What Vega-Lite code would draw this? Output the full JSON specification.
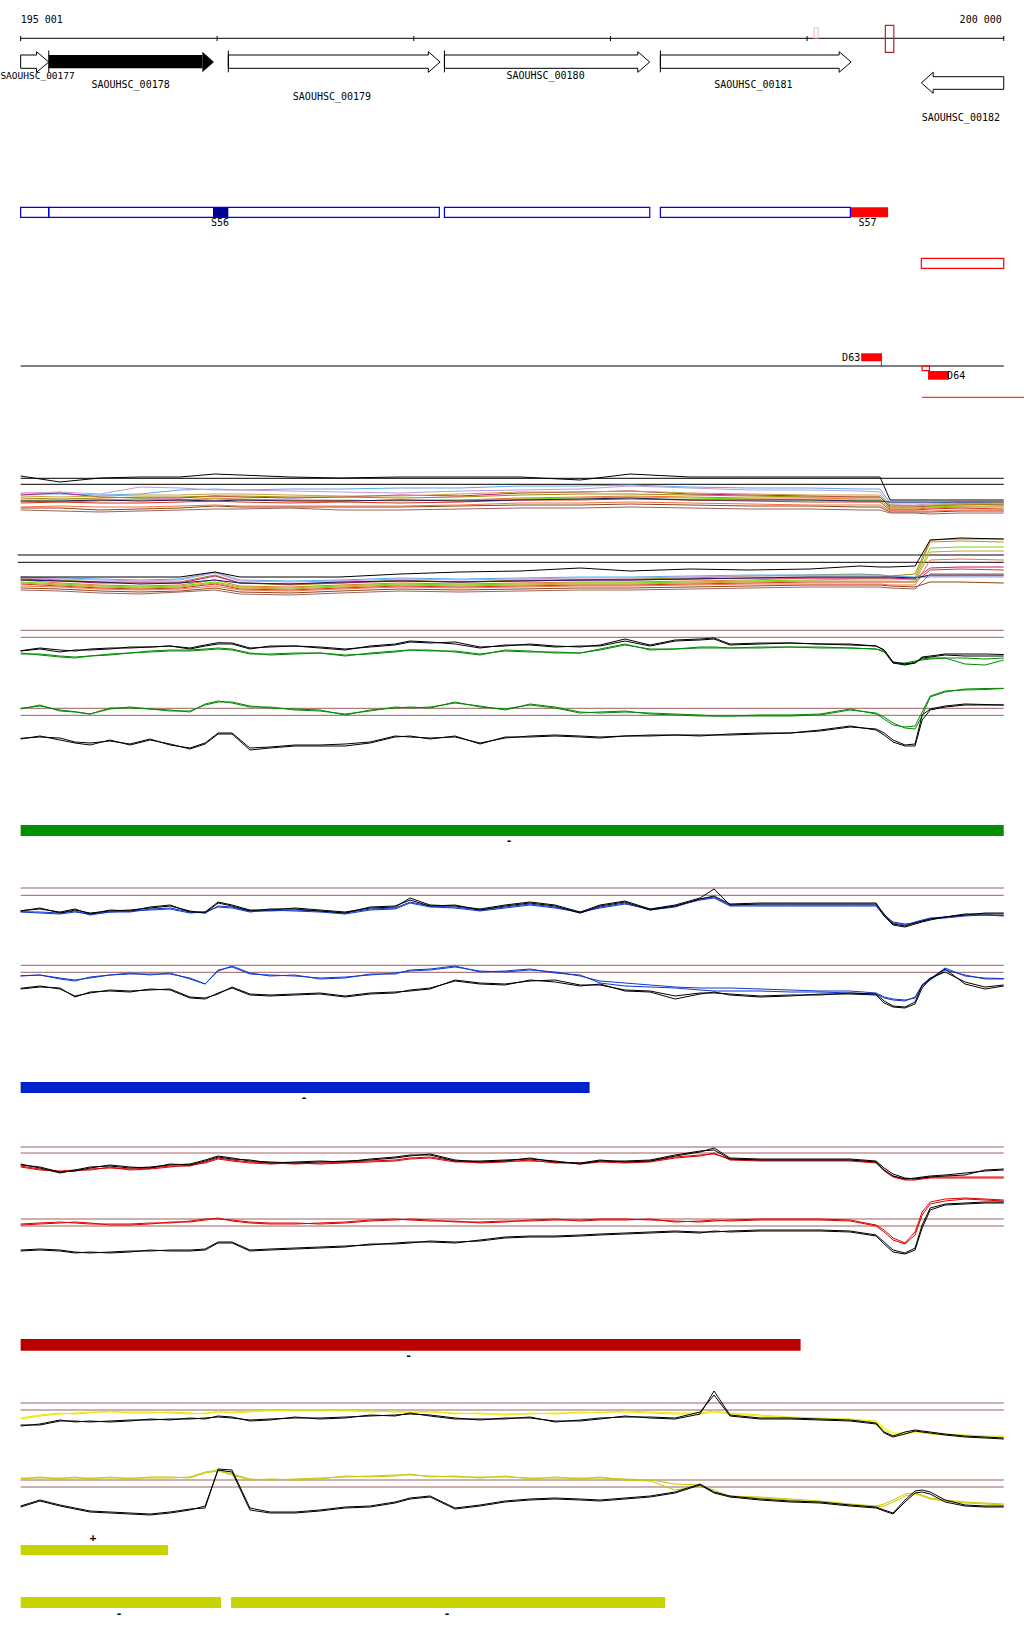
{
"$schema":"https://vega.github.io/schema/vega-lite/v6.json",
"width":1024,"height":1640,
"autosize":"none",
"padding":0,
"background":"white",
"config":{"view":{"stroke":null},"text":{"font":"DejaVu Sans Mono","fontSize":10,"color":"#000000"}},
"datasets":{
"mc":[
{"p":195001,"T1":494,"T2":493,"T3":495,"T4":500,"T5":498,"T6":501,"T7":503,"T8":501,"T9":508,"T10":507,"T11":510,"T12":496,"B1":578,"B2":580,"B3":582,"B4":579,"B5":584,"B6":577,"B7":578,"B8":588,"B9":586,"B10":580,"B11":583,"B12":590,"K3":476,"K6":577},
{"p":195201,"T1":494,"T2":492,"T3":493,"T4":500,"T5":499,"T6":502,"T7":502,"T8":501,"T9":508,"T10":506,"T11":511,"T12":497,"B1":580,"B2":583,"B3":584,"B4":581,"B5":586,"B6":578,"B7":579,"B8":589,"B9":587,"B10":581,"B11":585,"B12":591,"K3":482,"K6":577},
{"p":195405,"T1":495,"T2":494,"T3":497,"T4":500,"T5":498,"T6":501,"T7":503,"T8":500,"T9":510,"T10":507,"T11":512,"T12":496,"B1":582,"B2":585,"B3":586,"B4":583,"B5":588,"B6":579,"B7":580,"B8":591,"B9":589,"B10":582,"B11":587,"B12":593,"K3":478,"K6":577},
{"p":195608,"T1":494,"T2":487,"T3":498,"T4":499,"T5":497,"T6":500,"T7":503,"T8":501,"T9":509,"T10":507,"T11":511,"T12":495,"B1":582,"B2":586,"B3":587,"B4":583,"B5":589,"B6":580,"B7":581,"B8":592,"B9":590,"B10":584,"B11":588,"B12":594,"K3":477,"K6":577},
{"p":195811,"T1":490,"T2":488,"T3":498,"T4":500,"T5":497,"T6":500,"T7":502,"T8":500,"T9":508,"T10":506,"T11":510,"T12":495,"B1":582,"B2":585,"B3":586,"B4":583,"B5":588,"B6":579,"B7":580,"B8":591,"B9":589,"B10":583,"B11":587,"B12":592,"K3":477,"K6":577},
{"p":195989,"T1":489,"T2":490,"T3":496,"T4":499,"T5":496,"T6":498,"T7":501,"T8":501,"T9":506,"T10":505,"T11":509,"T12":494,"B1":575,"B2":580,"B3":582,"B4":576,"B5":584,"B6":572,"B7":573,"B8":588,"B9":586,"B10":580,"B11":583,"B12":590,"K3":474,"K6":572},
{"p":196116,"T1":490,"T2":490,"T3":497,"T4":500,"T5":496,"T6":499,"T7":502,"T8":500,"T9":507,"T10":506,"T11":509,"T12":494,"B1":583,"B2":586,"B3":587,"B4":583,"B5":589,"B6":580,"B7":581,"B8":592,"B9":590,"B10":583,"B11":588,"B12":594,"K3":475,"K6":577},
{"p":196371,"T1":489,"T2":491,"T3":498,"T4":500,"T5":497,"T6":500,"T7":503,"T8":501,"T9":507,"T10":506,"T11":508,"T12":495,"B1":585,"B2":587,"B3":588,"B4":584,"B5":590,"B6":581,"B7":582,"B8":593,"B9":591,"B10":584,"B11":589,"B12":595,"K3":477,"K6":577},
{"p":196625,"T1":489,"T2":492,"T3":497,"T4":500,"T5":497,"T6":501,"T7":502,"T8":501,"T9":507,"T10":506,"T11":510,"T12":496,"B1":583,"B2":585,"B3":586,"B4":583,"B5":588,"B6":580,"B7":581,"B8":591,"B9":589,"B10":582,"B11":587,"B12":593,"K3":478,"K6":577},
{"p":196930,"T1":488,"T2":493,"T3":495,"T4":501,"T5":498,"T6":500,"T7":503,"T8":500,"T9":507,"T10":506,"T11":510,"T12":496,"B1":580,"B2":583,"B3":584,"B4":581,"B5":586,"B6":578,"B7":579,"B8":589,"B9":587,"B10":581,"B11":585,"B12":591,"K3":477,"K6":574},
{"p":197235,"T1":488,"T2":491,"T3":496,"T4":500,"T5":497,"T6":500,"T7":502,"T8":501,"T9":506,"T10":505,"T11":509,"T12":494,"B1":582,"B2":584,"B3":585,"B4":582,"B5":587,"B6":579,"B7":580,"B8":590,"B9":588,"B10":582,"B11":586,"B12":592,"K3":477,"K6":572},
{"p":197540,"T1":486,"T2":490,"T3":493,"T4":499,"T5":495,"T6":498,"T7":500,"T8":500,"T9":505,"T10":503,"T11":508,"T12":492,"B1":580,"B2":583,"B3":584,"B4":581,"B5":586,"B6":578,"B7":579,"B8":589,"B9":587,"B10":581,"B11":585,"B12":591,"K3":477,"K6":571},
{"p":197846,"T1":486,"T2":489,"T3":492,"T4":498,"T5":494,"T6":497,"T7":500,"T8":499,"T9":505,"T10":503,"T11":508,"T12":492,"B1":580,"B2":582,"B3":583,"B4":580,"B5":585,"B6":577,"B7":578,"B8":588,"B9":586,"B10":580,"B11":584,"B12":590,"K3":480,"K6":568},
{"p":198100,"T1":485,"T2":486,"T3":491,"T4":497,"T5":494,"T6":496,"T7":499,"T8":498,"T9":504,"T10":502,"T11":507,"T12":491,"B1":579,"B2":582,"B3":583,"B4":580,"B5":585,"B6":577,"B7":578,"B8":588,"B9":586,"B10":580,"B11":584,"B12":590,"K3":474,"K6":571},
{"p":198405,"T1":487,"T2":488,"T3":494,"T4":498,"T5":495,"T6":497,"T7":500,"T8":500,"T9":505,"T10":503,"T11":508,"T12":493,"B1":578,"B2":581,"B3":582,"B4":579,"B5":584,"B6":576,"B7":577,"B8":587,"B9":585,"B10":579,"B11":583,"B12":589,"K3":477,"K6":569},
{"p":198710,"T1":488,"T2":490,"T3":495,"T4":499,"T5":496,"T6":498,"T7":501,"T8":500,"T9":506,"T10":504,"T11":509,"T12":494,"B1":576,"B2":580,"B3":581,"B4":578,"B5":583,"B6":575,"B7":576,"B8":586,"B9":584,"B10":578,"B11":582,"B12":588,"K3":477,"K6":570},
{"p":199015,"T1":488,"T2":490,"T3":496,"T4":500,"T5":497,"T6":498,"T7":502,"T8":500,"T9":506,"T10":505,"T11":509,"T12":495,"B1":575,"B2":578,"B3":580,"B4":578,"B5":582,"B6":575,"B7":576,"B8":585,"B9":584,"B10":577,"B11":581,"B12":587,"K3":477,"K6":569},
{"p":199269,"T1":489,"T2":491,"T3":497,"T4":500,"T5":497,"T6":499,"T7":502,"T8":501,"T9":507,"T10":505,"T11":510,"T12":495,"B1":574,"B2":578,"B3":579,"B4":578,"B5":582,"B6":575,"B7":576,"B8":585,"B9":584,"B10":577,"B11":581,"B12":587,"K3":477,"K6":566},
{"p":199371,"T1":489,"T2":492,"T3":497,"T4":500,"T5":497,"T6":499,"T7":502,"T8":501,"T9":507,"T10":505,"T11":510,"T12":495,"B1":575,"B2":578,"B3":579,"B4":578,"B5":582,"B6":575,"B7":576,"B8":585,"B9":584,"B10":577,"B11":581,"B12":587,"K3":477,"K6":567},
{"p":199422,"T1":503,"T2":505,"T3":507,"T4":508,"T5":505,"T6":509,"T7":510,"T8":502,"T9":512,"T10":511,"T11":513,"T12":506,"B1":576,"B2":578,"B3":579,"B4":578,"B5":582,"B6":576,"B7":577,"B8":586,"B9":585,"B10":577,"B11":581,"B12":588,"K3":500,"K6":567},
{"p":199549,"T1":503,"T2":505,"T3":507,"T4":508,"T5":506,"T6":509,"T7":510,"T8":502,"T9":512,"T10":511,"T11":513,"T12":506,"B1":574,"B2":578,"B3":580,"B4":579,"B5":582,"B6":577,"B7":578,"B8":587,"B9":585,"B10":578,"B11":582,"B12":589,"K3":500,"K6":566},
{"p":199626,"T1":503,"T2":504,"T3":506,"T4":507,"T5":506,"T6":508,"T7":509,"T8":502,"T9":512,"T10":511,"T11":514,"T12":505,"B1":540,"B2":542,"B3":548,"B4":568,"B5":570,"B6":576,"B7":577,"B8":582,"B9":560,"B10":575,"B11":552,"B12":574,"K3":500,"K6":540},
{"p":199778,"T1":502,"T2":503,"T3":504,"T4":506,"T5":505,"T6":507,"T7":508,"T8":502,"T9":511,"T10":510,"T11":513,"T12":504,"B1":539,"B2":541,"B3":547,"B4":567,"B5":569,"B6":576,"B7":577,"B8":582,"B9":559,"B10":575,"B11":551,"B12":574,"K3":500,"K6":538},
{"p":200000,"T1":502,"T2":503,"T3":505,"T4":506,"T5":504,"T6":507,"T7":509,"T8":502,"T9":511,"T10":510,"T11":513,"T12":503,"B1":539,"B2":542,"B3":547,"B4":567,"B5":570,"B6":576,"B7":577,"B8":583,"B9":560,"B10":575,"B11":551,"B12":574,"K3":500,"K6":539}
],
"g":[
{"p":195001,"k1":650.7,"k2":651,"c1":654,"c2":653,"C1":708.3,"C2":709,"K1":738.3,"K2":739},
{"p":195099,"k1":648,"k2":649,"c1":654,"c2":655,"C1":706,"C2":705,"K1":737,"K2":736},
{"p":195201,"k1":650,"k2":652,"c1":656,"c2":657,"C1":710,"C2":711,"K1":738,"K2":740},
{"p":195277,"k1":651,"k2":650,"c1":657,"c2":658,"C1":711.7,"C2":712,"K1":742,"K2":743},
{"p":195354,"k1":649,"k2":650,"c1":656,"c2":656,"C1":714,"C2":714,"K1":743,"K2":745},
{"p":195455,"k1":648,"k2":649,"c1":655,"c2":654,"C1":708,"C2":709,"K1":741,"K2":740},
{"p":195557,"k1":648,"k2":647,"c1":653,"c2":653,"C1":708,"C2":707,"K1":744,"K2":745},
{"p":195659,"k1":647,"k2":647,"c1":652,"c2":651,"C1":709,"C2":709,"K1":739,"K2":740},
{"p":195761,"k1":646,"k2":646,"c1":651,"c2":650,"C1":711,"C2":710,"K1":745,"K2":744},
{"p":195862,"k1":648,"k2":649,"c1":651,"c2":650,"C1":711,"C2":712,"K1":748,"K2":749},
{"p":195939,"k1":645,"k2":646,"c1":650,"c2":649,"C1":705,"C2":704,"K1":743,"K2":744},
{"p":196005,"k1":642.7,"k2":644,"c1":649,"c2":648,"C1":702,"C2":701,"K1":733,"K2":734},
{"p":196076,"k1":643,"k2":644,"c1":650,"c2":649,"C1":702,"C2":703,"K1":733,"K2":734},
{"p":196167,"k1":648,"k2":649,"c1":654,"c2":653,"C1":706,"C2":707,"K1":748,"K2":750},
{"p":196269,"k1":647,"k2":646,"c1":654,"c2":655,"C1":708,"C2":707,"K1":747,"K2":748},
{"p":196396,"k1":646,"k2":646,"c1":653,"c2":654,"C1":709,"C2":710,"K1":745,"K2":746},
{"p":196523,"k1":647,"k2":648,"c1":653,"c2":653,"C1":710,"C2":711,"K1":745,"K2":746},
{"p":196651,"k1":649,"k2":650,"c1":655,"c2":656,"C1":715,"C2":714,"K1":744,"K2":746},
{"p":196778,"k1":647,"k2":646,"c1":654,"c2":653,"C1":710,"C2":711,"K1":742,"K2":743},
{"p":196905,"k1":645,"k2":644,"c1":652,"c2":651,"C1":708,"C2":707,"K1":736,"K2":737},
{"p":196981,"k1":642,"k2":641,"c1":650,"c2":650,"C1":707,"C2":708,"K1":737,"K2":736},
{"p":197083,"k1":643,"k2":642,"c1":651,"c2":650,"C1":708,"C2":707,"K1":738,"K2":739},
{"p":197210,"k1":642,"k2":644,"c1":651,"c2":652,"C1":702,"C2":703,"K1":737,"K2":736},
{"p":197337,"k1":647,"k2":648,"c1":654,"c2":655,"C1":707,"C2":706,"K1":743,"K2":744},
{"p":197464,"k1":646,"k2":645,"c1":651,"c2":650,"C1":709,"C2":710,"K1":738,"K2":737},
{"p":197591,"k1":644,"k2":645,"c1":652,"c2":651,"C1":705,"C2":704,"K1":736,"K2":737},
{"p":197718,"k1":646,"k2":647,"c1":652,"c2":653,"C1":708,"C2":707,"K1":735,"K2":736},
{"p":197846,"k1":647,"k2":646,"c1":653,"c2":653,"C1":713,"C2":712,"K1":736,"K2":737},
{"p":197947,"k1":645,"k2":646,"c1":650,"c2":649,"C1":712,"C2":713,"K1":737,"K2":738},
{"p":198074,"k1":639,"k2":641,"c1":645,"c2":644,"C1":711,"C2":712,"K1":736,"K2":736},
{"p":198202,"k1":645,"k2":646,"c1":649,"c2":650,"C1":714,"C2":713,"K1":735,"K2":736},
{"p":198329,"k1":640,"k2":641,"c1":649,"c2":649,"C1":715,"C2":714,"K1":735,"K2":735},
{"p":198456,"k1":639,"k2":640,"c1":648,"c2":647,"C1":716,"C2":715,"K1":735,"K2":736},
{"p":198527,"k1":638,"k2":639,"c1":648,"c2":647,"C1":716,"C2":716,"K1":735,"K2":735},
{"p":198608,"k1":644,"k2":645,"c1":648,"c2":648,"C1":716,"C2":716,"K1":735,"K2":734},
{"p":198761,"k1":643,"k2":644,"c1":648,"c2":647,"C1":716,"C2":715,"K1":734,"K2":733},
{"p":198914,"k1":643,"k2":643,"c1":647,"c2":647,"C1":716,"C2":715,"K1":733,"K2":733},
{"p":199066,"k1":644,"k2":644,"c1":647,"c2":648,"C1":715,"C2":714,"K1":731,"K2":730},
{"p":199219,"k1":645,"k2":644,"c1":648,"c2":648,"C1":710,"C2":709,"K1":727,"K2":726},
{"p":199351,"k1":646,"k2":646,"c1":649,"c2":649,"C1":713,"C2":714,"K1":729,"K2":730},
{"p":199392,"k1":650,"k2":650,"c1":651,"c2":652,"C1":717,"C2":719,"K1":733,"K2":735},
{"p":199437,"k1":662,"k2":663,"c1":662,"c2":663,"C1":723,"C2":725,"K1":740,"K2":742},
{"p":199498,"k1":664,"k2":665,"c1":664,"c2":663,"C1":728,"C2":727,"K1":745,"K2":746},
{"p":199549,"k1":663,"k2":663,"c1":662,"c2":661,"C1":729,"C2":726,"K1":744,"K2":746},
{"p":199585,"k1":657,"k2":658,"c1":659,"c2":660,"C1":716,"C2":712,"K1":715,"K2":720},
{"p":199626,"k1":656,"k2":657,"c1":658,"c2":659,"C1":697,"C2":696,"K1":709,"K2":710},
{"p":199702,"k1":654,"k2":655,"c1":658,"c2":658,"C1":692,"C2":691,"K1":706,"K2":707},
{"p":199803,"k1":654,"k2":656,"c1":664,"c2":658,"C1":689,"C2":690,"K1":704,"K2":705},
{"p":199905,"k1":654,"k2":656,"c1":665,"c2":659,"C1":688.5,"C2":689.5,"K1":704.5,"K2":705},
{"p":200000,"k1":654.5,"k2":656,"c1":660,"c2":658,"C1":688.3,"C2":688.5,"K1":705,"K2":705}
],
"b":[
{"p":195001,"k1":910.7,"k2":911,"c1":911.7,"c2":912,"C1":975.7,"C2":976,"K1":988.3,"K2":989},
{"p":195099,"k1":909,"k2":908,"c1":912,"c2":913,"C1":975,"C2":975,"K1":986,"K2":987},
{"p":195201,"k1":912,"k2":913,"c1":913,"c2":914,"C1":978,"C2":979,"K1":989,"K2":988},
{"p":195277,"k1":909,"k2":910,"c1":911,"c2":912,"C1":980,"C2":981,"K1":996,"K2":997},
{"p":195354,"k1":914,"k2":913,"c1":915,"c2":914,"C1":978,"C2":977,"K1":993,"K2":992},
{"p":195455,"k1":910,"k2":911,"c1":912,"c2":912,"C1":975,"C2":975,"K1":990,"K2":991},
{"p":195557,"k1":911,"k2":910,"c1":912,"c2":911,"C1":974,"C2":973,"K1":991,"K2":992},
{"p":195659,"k1":907,"k2":908,"c1":909,"c2":910,"C1":974,"C2":975,"K1":990,"K2":989},
{"p":195761,"k1":905,"k2":906,"c1":908,"c2":909,"C1":974,"C2":973,"K1":989,"K2":990},
{"p":195862,"k1":912,"k2":911,"c1":912,"c2":913,"C1":978,"C2":979,"K1":997,"K2":998},
{"p":195939,"k1":912,"k2":913,"c1":913,"c2":912,"C1":984,"C2":984,"K1":998,"K2":999},
{"p":196005,"k1":902,"k2":903,"c1":906,"c2":907,"C1":970,"C2":971,"K1":994,"K2":993},
{"p":196076,"k1":905,"k2":906,"c1":907,"c2":908,"C1":967,"C2":966,"K1":987,"K2":988},
{"p":196167,"k1":910,"k2":911,"c1":911,"c2":912,"C1":974,"C2":973,"K1":994,"K2":995},
{"p":196269,"k1":910,"k2":909,"c1":911,"c2":910,"C1":975,"C2":976,"K1":995,"K2":996},
{"p":196396,"k1":908,"k2":909,"c1":910,"c2":911,"C1":976,"C2":975,"K1":994,"K2":995},
{"p":196523,"k1":910,"k2":911,"c1":911,"c2":912,"C1":978,"C2":979,"K1":993,"K2":994},
{"p":196651,"k1":912,"k2":913,"c1":913,"c2":914,"C1":977,"C2":978,"K1":996,"K2":997},
{"p":196778,"k1":908,"k2":907,"c1":909,"c2":910,"C1":975,"C2":974,"K1":993,"K2":994},
{"p":196905,"k1":907,"k2":906,"c1":908,"c2":909,"C1":973,"C2":974,"K1":992,"K2":993},
{"p":196981,"k1":898,"k2":900,"c1":902,"c2":903,"C1":971,"C2":970,"K1":991,"K2":990},
{"p":197083,"k1":905,"k2":906,"c1":906,"c2":907,"C1":970,"C2":969,"K1":989,"K2":988},
{"p":197210,"k1":906,"k2":905,"c1":907,"c2":908,"C1":967,"C2":966,"K1":980,"K2":981},
{"p":197337,"k1":909,"k2":910,"c1":910,"c2":911,"C1":971,"C2":972,"K1":983,"K2":984},
{"p":197464,"k1":905,"k2":906,"c1":907,"c2":908,"C1":972,"C2":971,"K1":984,"K2":985},
{"p":197591,"k1":902,"k2":903,"c1":904,"c2":905,"C1":970,"C2":969,"K1":981,"K2":980},
{"p":197718,"k1":905,"k2":906,"c1":907,"c2":908,"C1":972,"C2":973,"K1":980,"K2":982},
{"p":197846,"k1":912,"k2":913,"c1":913,"c2":912,"C1":976,"C2":975,"K1":985,"K2":986},
{"p":197947,"k1":905,"k2":906,"c1":907,"c2":908,"C1":981,"C2":983,"K1":985,"K2":984},
{"p":198074,"k1":901,"k2":902,"c1":903,"c2":904,"C1":983,"C2":986,"K1":990,"K2":991},
{"p":198202,"k1":909,"k2":910,"c1":910,"c2":909,"C1":985,"C2":987,"K1":991,"K2":992},
{"p":198329,"k1":905,"k2":906,"c1":907,"c2":906,"C1":987,"C2":988,"K1":996,"K2":999},
{"p":198456,"k1":898,"k2":899,"c1":899,"c2":900,"C1":988,"C2":990,"K1":993,"K2":994},
{"p":198527,"k1":889,"k2":896,"c1":897,"c2":898,"C1":988,"C2":991,"K1":993,"K2":992},
{"p":198608,"k1":905,"k2":904,"c1":905,"c2":906,"C1":988,"C2":991,"K1":994,"K2":995},
{"p":198761,"k1":904,"k2":903,"c1":905,"c2":906,"C1":989,"C2":991,"K1":996,"K2":997},
{"p":198914,"k1":904,"k2":903,"c1":905,"c2":906,"C1":990,"C2":992,"K1":995,"K2":996},
{"p":199066,"k1":904,"k2":903,"c1":905,"c2":906,"C1":991,"C2":992,"K1":995,"K2":994},
{"p":199219,"k1":904,"k2":903,"c1":905,"c2":906,"C1":991,"C2":993,"K1":993,"K2":994},
{"p":199351,"k1":904,"k2":903,"c1":905,"c2":906,"C1":993,"C2":994,"K1":994,"K2":995},
{"p":199392,"k1":914,"k2":916,"c1":915,"c2":916,"C1":997,"C2":998,"K1":1001,"K2":1003},
{"p":199437,"k1":924,"k2":925,"c1":922,"c2":923,"C1":999,"C2":1000,"K1":1006,"K2":1007},
{"p":199498,"k1":926,"k2":927,"c1":924,"c2":925,"C1":1000,"C2":1001,"K1":1007,"K2":1008},
{"p":199549,"k1":923,"k2":924,"c1":923,"c2":922,"C1":998,"C2":997,"K1":1002,"K2":1004},
{"p":199585,"k1":921,"k2":922,"c1":921,"c2":920,"C1":986,"C2":985,"K1":985,"K2":988},
{"p":199626,"k1":919,"k2":920,"c1":919,"c2":918,"C1":980,"C2":979,"K1":978,"K2":979},
{"p":199702,"k1":917,"k2":917,"c1":918,"c2":917,"C1":970,"C2":968,"K1":972,"K2":969},
{"p":199803,"k1":914,"k2":915,"c1":916,"c2":915,"C1":975,"C2":976,"K1":982,"K2":984},
{"p":199905,"k1":914,"k2":913,"c1":915,"c2":915,"C1":979,"C2":978,"K1":987,"K2":989},
{"p":200000,"k1":914,"k2":913,"c1":915.7,"c2":916,"C1":979,"C2":978.5,"K1":985,"K2":986}
],
"r":[
{"p":195001,"k1":1164,"k2":1165,"c1":1166,"c2":1167,"C1":1224,"C2":1225,"K1":1250,"K2":1251},
{"p":195099,"k1":1168,"k2":1167,"c1":1169,"c2":1170,"C1":1223,"C2":1224,"K1":1249,"K2":1250},
{"p":195201,"k1":1173,"k2":1172,"c1":1172,"c2":1171,"C1":1222,"C2":1223,"K1":1250,"K2":1251},
{"p":195277,"k1":1170,"k2":1171,"c1":1171,"c2":1170,"C1":1223,"C2":1222,"K1":1252,"K2":1253},
{"p":195354,"k1":1167,"k2":1168,"c1":1169,"c2":1170,"C1":1224,"C2":1223,"K1":1253,"K2":1252},
{"p":195455,"k1":1166,"k2":1165,"c1":1168,"c2":1167,"C1":1224,"C2":1225,"K1":1252,"K2":1253},
{"p":195557,"k1":1168,"k2":1167,"c1":1169,"c2":1170,"C1":1224,"C2":1225,"K1":1251,"K2":1252},
{"p":195659,"k1":1167,"k2":1168,"c1":1168,"c2":1169,"C1":1223,"C2":1224,"K1":1251,"K2":1250},
{"p":195761,"k1":1165,"k2":1164,"c1":1166,"c2":1167,"C1":1223,"C2":1222,"K1":1250,"K2":1251},
{"p":195862,"k1":1164,"k2":1165,"c1":1166,"c2":1165,"C1":1221,"C2":1222,"K1":1250,"K2":1251},
{"p":195939,"k1":1160,"k2":1161,"c1":1162,"c2":1163,"C1":1219,"C2":1220,"K1":1249,"K2":1250},
{"p":196005,"k1":1156,"k2":1157,"c1":1158,"c2":1159,"C1":1219,"C2":1218,"K1":1242,"K2":1243},
{"p":196076,"k1":1158,"k2":1159,"c1":1160,"c2":1161,"C1":1220,"C2":1221,"K1":1242,"K2":1243},
{"p":196167,"k1":1161,"k2":1160,"c1":1162,"c2":1163,"C1":1222,"C2":1223,"K1":1250,"K2":1251},
{"p":196269,"k1":1162,"k2":1163,"c1":1163,"c2":1164,"C1":1223,"C2":1224,"K1":1249,"K2":1250},
{"p":196396,"k1":1163,"k2":1162,"c1":1164,"c2":1163,"C1":1223,"C2":1224,"K1":1248,"K2":1249},
{"p":196523,"k1":1162,"k2":1161,"c1":1163,"c2":1164,"C1":1224,"C2":1223,"K1":1247,"K2":1248},
{"p":196651,"k1":1161,"k2":1162,"c1":1162,"c2":1163,"C1":1223,"C2":1222,"K1":1246,"K2":1247},
{"p":196778,"k1":1160,"k2":1159,"c1":1161,"c2":1162,"C1":1221,"C2":1220,"K1":1245,"K2":1244},
{"p":196905,"k1":1158,"k2":1157,"c1":1160,"c2":1161,"C1":1220,"C2":1219,"K1":1243,"K2":1244},
{"p":196981,"k1":1156,"k2":1155,"c1":1158,"c2":1159,"C1":1219,"C2":1220,"K1":1242,"K2":1243},
{"p":197083,"k1":1154,"k2":1155,"c1":1157,"c2":1158,"C1":1220,"C2":1221,"K1":1242,"K2":1241},
{"p":197210,"k1":1160,"k2":1161,"c1":1161,"c2":1162,"C1":1222,"C2":1221,"K1":1243,"K2":1242},
{"p":197337,"k1":1162,"k2":1161,"c1":1163,"c2":1162,"C1":1222,"C2":1223,"K1":1240,"K2":1241},
{"p":197464,"k1":1161,"k2":1160,"c1":1162,"c2":1161,"C1":1221,"C2":1222,"K1":1237,"K2":1238},
{"p":197591,"k1":1158,"k2":1159,"c1":1160,"c2":1161,"C1":1221,"C2":1220,"K1":1236,"K2":1237},
{"p":197718,"k1":1162,"k2":1161,"c1":1163,"c2":1162,"C1":1220,"C2":1219,"K1":1236,"K2":1237},
{"p":197846,"k1":1163,"k2":1164,"c1":1163,"c2":1164,"C1":1220,"C2":1221,"K1":1235,"K2":1236},
{"p":197947,"k1":1160,"k2":1161,"c1":1161,"c2":1162,"C1":1219,"C2":1220,"K1":1234,"K2":1235},
{"p":198074,"k1":1162,"k2":1161,"c1":1162,"c2":1163,"C1":1219,"C2":1220,"K1":1233,"K2":1234},
{"p":198202,"k1":1161,"k2":1160,"c1":1161,"c2":1162,"C1":1220,"C2":1219,"K1":1232,"K2":1233},
{"p":198329,"k1":1156,"k2":1155,"c1":1157,"c2":1158,"C1":1221,"C2":1222,"K1":1231,"K2":1232},
{"p":198456,"k1":1152,"k2":1151,"c1":1155,"c2":1156,"C1":1222,"C2":1221,"K1":1232,"K2":1233},
{"p":198527,"k1":1148,"k2":1150,"c1":1154,"c2":1153,"C1":1221,"C2":1220,"K1":1232,"K2":1231},
{"p":198608,"k1":1158,"k2":1159,"c1":1159,"c2":1160,"C1":1220,"C2":1221,"K1":1231,"K2":1232},
{"p":198761,"k1":1159,"k2":1160,"c1":1160,"c2":1161,"C1":1219,"C2":1220,"K1":1230,"K2":1231},
{"p":198914,"k1":1159,"k2":1160,"c1":1160,"c2":1161,"C1":1219,"C2":1220,"K1":1230,"K2":1231},
{"p":199066,"k1":1159,"k2":1160,"c1":1160,"c2":1161,"C1":1219,"C2":1220,"K1":1230,"K2":1231},
{"p":199219,"k1":1159,"k2":1160,"c1":1160,"c2":1161,"C1":1220,"C2":1221,"K1":1231,"K2":1232},
{"p":199351,"k1":1161,"k2":1162,"c1":1162,"c2":1163,"C1":1225,"C2":1226,"K1":1235,"K2":1236},
{"p":199392,"k1":1168,"k2":1170,"c1":1170,"c2":1171,"C1":1230,"C2":1232,"K1":1242,"K2":1244},
{"p":199437,"k1":1174,"k2":1176,"c1":1176,"c2":1177,"C1":1238,"C2":1240,"K1":1250,"K2":1252},
{"p":199498,"k1":1178,"k2":1179,"c1":1179,"c2":1180,"C1":1243,"C2":1244,"K1":1253,"K2":1254},
{"p":199549,"k1":1179,"k2":1178,"c1":1179,"c2":1180,"C1":1232,"C2":1235,"K1":1248,"K2":1250},
{"p":199585,"k1":1178,"k2":1177,"c1":1178,"c2":1179,"C1":1212,"C2":1215,"K1":1225,"K2":1228},
{"p":199626,"k1":1177,"k2":1176,"c1":1177,"c2":1178,"C1":1202,"C2":1204,"K1":1208,"K2":1210},
{"p":199702,"k1":1176,"k2":1175,"c1":1177,"c2":1178,"C1":1199,"C2":1201,"K1":1204,"K2":1205},
{"p":199803,"k1":1175,"k2":1173,"c1":1177,"c2":1178,"C1":1198,"C2":1199,"K1":1203,"K2":1204},
{"p":199905,"k1":1170,"k2":1171,"c1":1177,"c2":1178,"C1":1199,"C2":1200,"K1":1202,"K2":1203},
{"p":200000,"k1":1169,"k2":1170,"c1":1177,"c2":1178,"C1":1200,"C2":1201,"K1":1202,"K2":1203}
],
"y":[
{"p":195001,"k1":1425,"k2":1426,"c1":1419,"c2":1418,"C1":1478,"C2":1479,"K1":1506,"K2":1507},
{"p":195099,"k1":1425,"k2":1424,"c1":1416,"c2":1415,"C1":1478,"C2":1477,"K1":1500,"K2":1501},
{"p":195201,"k1":1421,"k2":1420,"c1":1414,"c2":1413,"C1":1478,"C2":1479,"K1":1505,"K2":1506},
{"p":195277,"k1":1421,"k2":1422,"c1":1413,"c2":1414,"C1":1478,"C2":1477,"K1":1508,"K2":1509},
{"p":195354,"k1":1422,"k2":1421,"c1":1412,"c2":1413,"C1":1478,"C2":1479,"K1":1511,"K2":1512},
{"p":195455,"k1":1421,"k2":1422,"c1":1412,"c2":1411,"C1":1478,"C2":1477,"K1":1512,"K2":1513},
{"p":195557,"k1":1420,"k2":1421,"c1":1412,"c2":1413,"C1":1478,"C2":1479,"K1":1513,"K2":1514},
{"p":195659,"k1":1420,"k2":1419,"c1":1412,"c2":1413,"C1":1478,"C2":1477,"K1":1514,"K2":1515},
{"p":195761,"k1":1419,"k2":1420,"c1":1413,"c2":1412,"C1":1478,"C2":1477,"K1":1512,"K2":1513},
{"p":195862,"k1":1419,"k2":1418,"c1":1414,"c2":1413,"C1":1477,"C2":1478,"K1":1509,"K2":1510},
{"p":195939,"k1":1418,"k2":1419,"c1":1413,"c2":1414,"C1":1472,"C2":1473,"K1":1508,"K2":1506},
{"p":196005,"k1":1417,"k2":1416,"c1":1412,"c2":1411,"C1":1470,"C2":1471,"K1":1469,"K2":1470},
{"p":196076,"k1":1418,"k2":1417,"c1":1412,"c2":1413,"C1":1474,"C2":1475,"K1":1470,"K2":1472},
{"p":196167,"k1":1420,"k2":1421,"c1":1411,"c2":1412,"C1":1479,"C2":1480,"K1":1508,"K2":1510},
{"p":196269,"k1":1419,"k2":1420,"c1":1411,"c2":1410,"C1":1480,"C2":1479,"K1":1512,"K2":1513},
{"p":196396,"k1":1418,"k2":1417,"c1":1410,"c2":1411,"C1":1479,"C2":1480,"K1":1512,"K2":1513},
{"p":196523,"k1":1418,"k2":1419,"c1":1410,"c2":1411,"C1":1478,"C2":1479,"K1":1510,"K2":1511},
{"p":196651,"k1":1417,"k2":1418,"c1":1411,"c2":1410,"C1":1477,"C2":1476,"K1":1507,"K2":1508},
{"p":196778,"k1":1416,"k2":1415,"c1":1411,"c2":1412,"C1":1476,"C2":1477,"K1":1506,"K2":1507},
{"p":196905,"k1":1415,"k2":1416,"c1":1412,"c2":1411,"C1":1475,"C2":1476,"K1":1502,"K2":1503},
{"p":196981,"k1":1414,"k2":1413,"c1":1412,"c2":1413,"C1":1475,"C2":1474,"K1":1498,"K2":1499},
{"p":197083,"k1":1415,"k2":1416,"c1":1412,"c2":1411,"C1":1476,"C2":1477,"K1":1496,"K2":1497},
{"p":197210,"k1":1418,"k2":1419,"c1":1413,"c2":1414,"C1":1477,"C2":1476,"K1":1508,"K2":1509},
{"p":197337,"k1":1420,"k2":1419,"c1":1414,"c2":1413,"C1":1477,"C2":1478,"K1":1505,"K2":1506},
{"p":197464,"k1":1418,"k2":1419,"c1":1414,"c2":1415,"C1":1477,"C2":1476,"K1":1501,"K2":1502},
{"p":197591,"k1":1418,"k2":1417,"c1":1414,"c2":1413,"C1":1478,"C2":1479,"K1":1499,"K2":1500},
{"p":197718,"k1":1421,"k2":1422,"c1":1413,"c2":1414,"C1":1478,"C2":1477,"K1":1498,"K2":1499},
{"p":197846,"k1":1421,"k2":1420,"c1":1413,"c2":1412,"C1":1478,"C2":1479,"K1":1499,"K2":1500},
{"p":197947,"k1":1419,"k2":1418,"c1":1412,"c2":1413,"C1":1478,"C2":1477,"K1":1500,"K2":1501},
{"p":198074,"k1":1416,"k2":1417,"c1":1412,"c2":1411,"C1":1479,"C2":1480,"K1":1498,"K2":1499},
{"p":198202,"k1":1418,"k2":1417,"c1":1413,"c2":1412,"C1":1480,"C2":1481,"K1":1496,"K2":1497},
{"p":198329,"k1":1419,"k2":1418,"c1":1414,"c2":1413,"C1":1484,"C2":1490,"K1":1492,"K2":1493},
{"p":198456,"k1":1414,"k2":1412,"c1":1414,"c2":1413,"C1":1485,"C2":1486,"K1":1484,"K2":1485},
{"p":198527,"k1":1391,"k2":1395,"c1":1412,"c2":1411,"C1":1492,"C2":1490,"K1":1492,"K2":1493},
{"p":198608,"k1":1415,"k2":1416,"c1":1414,"c2":1413,"C1":1496,"C2":1497,"K1":1496,"K2":1497},
{"p":198761,"k1":1418,"k2":1419,"c1":1416,"c2":1415,"C1":1497,"C2":1498,"K1":1499,"K2":1500},
{"p":198914,"k1":1418,"k2":1419,"c1":1418,"c2":1417,"C1":1499,"C2":1500,"K1":1501,"K2":1502},
{"p":199066,"k1":1419,"k2":1420,"c1":1419,"c2":1418,"C1":1501,"C2":1502,"K1":1502,"K2":1503},
{"p":199219,"k1":1420,"k2":1421,"c1":1420,"c2":1419,"C1":1504,"C2":1505,"K1":1505,"K2":1506},
{"p":199351,"k1":1423,"k2":1424,"c1":1422,"c2":1421,"C1":1506,"C2":1507,"K1":1507,"K2":1508},
{"p":199392,"k1":1432,"k2":1433,"c1":1430,"c2":1428,"C1":1504,"C2":1506,"K1":1510,"K2":1511},
{"p":199437,"k1":1436,"k2":1437,"c1":1435,"c2":1433,"C1":1500,"C2":1502,"K1":1513,"K2":1514},
{"p":199498,"k1":1432,"k2":1434,"c1":1434,"c2":1433,"C1":1494,"C2":1496,"K1":1500,"K2":1502},
{"p":199549,"k1":1430,"k2":1431,"c1":1432,"c2":1431,"C1":1493,"C2":1494,"K1":1491,"K2":1493},
{"p":199585,"k1":1431,"k2":1432,"c1":1432,"c2":1433,"C1":1495,"C2":1496,"K1":1490,"K2":1492},
{"p":199626,"k1":1432,"k2":1433,"c1":1433,"c2":1434,"C1":1498,"C2":1499,"K1":1492,"K2":1494},
{"p":199702,"k1":1434,"k2":1435,"c1":1434,"c2":1435,"C1":1500,"C2":1501,"K1":1500,"K2":1502},
{"p":199803,"k1":1436,"k2":1437,"c1":1435,"c2":1436,"C1":1502,"C2":1503,"K1":1505,"K2":1506},
{"p":199905,"k1":1437,"k2":1438,"c1":1436,"c2":1437,"C1":1503,"C2":1504,"K1":1506,"K2":1507},
{"p":200000,"k1":1438,"k2":1439,"c1":1436,"c2":1437,"C1":1504,"C2":1505,"K1":1506,"K2":1507}
]
},
"encoding":{
"x":{"field":"p","type":"quantitative","scale":{"domain":[194896,200103],"nice":false,"zero":false},"axis":null},
"y":{"field":"v","type":"quantitative","scale":{"domain":[0,1640],"reverse":true,"nice":false,"zero":false},"axis":null}
},
"layer":[
{"data":{"values":[
{"p":195001,"p2":200000,"v":630.3},{"p":195001,"p2":200000,"v":637.3},{"p":195001,"p2":200000,"v":708.3},{"p":195001,"p2":200000,"v":715.3},
{"p":195001,"p2":200000,"v":888},{"p":195001,"p2":200000,"v":895.3},{"p":195001,"p2":200000,"v":965.3},{"p":195001,"p2":200000,"v":972.3},
{"p":195001,"p2":200000,"v":1147},{"p":195001,"p2":200000,"v":1153},{"p":195001,"p2":200000,"v":1219},{"p":195001,"p2":200000,"v":1226},
{"p":195001,"p2":200000,"v":1403},{"p":195001,"p2":200000,"v":1410},{"p":195001,"p2":200000,"v":1480},{"p":195001,"p2":200000,"v":1487}
]},"mark":{"type":"rule","color":"#9E6060","strokeWidth":1},"encoding":{"x2":{"field":"p2"}}},
{"data":{"values":[
{"p":195001,"p2":200000,"v":38.3},{"p":195001,"p2":200000,"v":366},
{"p":195001,"p2":200000,"v":478.3},{"p":195001,"p2":200000,"v":484.3},
{"p":194986,"p2":200000,"v":555},{"p":194986,"p2":200000,"v":562.3}
]},"mark":{"type":"rule","color":"#000000","strokeWidth":1},"encoding":{"x2":{"field":"p2"}}},
{"data":{"values":[
{"p":195001,"v":36,"v2":41},{"p":196000,"v":36,"v2":41},{"p":197000,"v":36,"v2":41},{"p":198000,"v":36,"v2":41},{"p":199000,"v":36,"v2":41},{"p":200000,"v":36,"v2":41},
{"p":195144,"v":50.5,"v2":72.3},{"p":196057,"v":50.5,"v2":72.3},{"p":197156,"v":50.5,"v2":72.3},{"p":198254,"v":50.5,"v2":72.3}
]},"mark":{"type":"rule","color":"#000000","strokeWidth":1},"encoding":{"y2":{"field":"v2"}}},
{"data":{"values":[{"p":199378,"v":361.3,"v2":366.7}]},"mark":{"type":"rule","color":"#FF0000","strokeWidth":1},"encoding":{"y2":{"field":"v2"}}},
{"data":{"values":[{"p":199585,"p2":200103,"v":397.3}]},"mark":{"type":"rule","color":"#FF0000","strokeWidth":1},"encoding":{"x2":{"field":"p2"}}},
{"data":{"values":[
{"p":195144,"p2":195925,"v":55,"v2":68.3,"k":"gene"},
{"p":195979,"p2":196057,"v":207.3,"v2":217.3,"k":"s56"},
{"p":199220,"p2":199412,"v":207.3,"v2":217.3,"k":"red"},
{"p":199275,"p2":199381,"v":353.3,"v2":361.3,"k":"red"},
{"p":199615,"p2":199721,"v":371,"v2":379.7,"k":"red"},
{"p":195001,"p2":200000,"v":825,"v2":836,"k":"green"},
{"p":195001,"p2":197894,"v":1082,"v2":1093,"k":"blue"},
{"p":195001,"p2":198967,"v":1339,"v2":1350.7,"k":"darkred"},
{"p":195001,"p2":195750,"v":1545,"v2":1555,"k":"yellow"},
{"p":195001,"p2":196020,"v":1597,"v2":1608,"k":"yellow"},
{"p":196071,"p2":198278,"v":1597,"v2":1608,"k":"yellow"}
]},"mark":{"type":"rect"},"encoding":{"x2":{"field":"p2"},"y2":{"field":"v2"},
"fill":{"field":"k","type":"nominal","legend":null,"scale":{"domain":["gene","s56","red","green","blue","darkred","yellow"],"range":["#000000","#000099","#FF0000","#009000","#0022CC","#BB0000","#C8D400"]}}}},
{"data":{"values":[
{"p":195001,"p2":195144,"v":207.3,"v2":217.3,"k":"blue"},
{"p":195144,"p2":197130,"v":207.3,"v2":217.3,"k":"blue"},
{"p":197156,"p2":198200,"v":207.3,"v2":217.3,"k":"blue"},
{"p":198254,"p2":199220,"v":207.3,"v2":217.3,"k":"blue"},
{"p":199581,"p2":200000,"v":258.3,"v2":268.3,"k":"red"},
{"p":199585,"p2":199622,"v":366,"v2":370.7,"k":"red"},
{"p":199036,"p2":199056,"v":28,"v2":38,"k":"pink"},
{"p":199398,"p2":199441,"v":25.3,"v2":52.3,"k":"darkred"}
]},"mark":{"type":"rect","filled":false,"strokeWidth":1.2},"encoding":{"x2":{"field":"p2"},"y2":{"field":"v2"},
"stroke":{"field":"k","type":"nominal","legend":null,"scale":{"domain":["blue","red","pink","darkred"],"range":["#0000EE","#FF0000","#F5C0B8","#B02828"]}}}},
{"data":{"values":[
{"g":"177","o":1,"p":195001,"v":55},{"g":"177","o":2,"p":195082,"v":55},{"g":"177","o":3,"p":195082,"v":51.7},{"g":"177","o":4,"p":195144,"v":62},{"g":"177","o":5,"p":195082,"v":72.3},{"g":"177","o":6,"p":195082,"v":68.3},{"g":"177","o":7,"p":195001,"v":68.3},{"g":"177","o":8,"p":195001,"v":55},
{"g":"179","o":1,"p":196057,"v":55},{"g":"179","o":2,"p":197074,"v":55},{"g":"179","o":3,"p":197074,"v":51.7},{"g":"179","o":4,"p":197134,"v":62},{"g":"179","o":5,"p":197074,"v":72.3},{"g":"179","o":6,"p":197074,"v":68.3},{"g":"179","o":7,"p":196057,"v":68.3},{"g":"179","o":8,"p":196057,"v":55},
{"g":"180","o":1,"p":197156,"v":55},{"g":"180","o":2,"p":198139,"v":55},{"g":"180","o":3,"p":198139,"v":51.7},{"g":"180","o":4,"p":198200,"v":62},{"g":"180","o":5,"p":198139,"v":72.3},{"g":"180","o":6,"p":198139,"v":68.3},{"g":"180","o":7,"p":197156,"v":68.3},{"g":"180","o":8,"p":197156,"v":55},
{"g":"181","o":1,"p":198254,"v":55},{"g":"181","o":2,"p":199163,"v":55},{"g":"181","o":3,"p":199163,"v":51.7},{"g":"181","o":4,"p":199224,"v":62},{"g":"181","o":5,"p":199163,"v":72.3},{"g":"181","o":6,"p":199163,"v":68.3},{"g":"181","o":7,"p":198254,"v":68.3},{"g":"181","o":8,"p":198254,"v":55},
{"g":"182","o":1,"p":200000,"v":76.7},{"g":"182","o":2,"p":199641,"v":76.7},{"g":"182","o":3,"p":199641,"v":72.3},{"g":"182","o":4,"p":199581,"v":82.8},{"g":"182","o":5,"p":199641,"v":93.3},{"g":"182","o":6,"p":199641,"v":89.3},{"g":"182","o":7,"p":200000,"v":89.3},{"g":"182","o":8,"p":200000,"v":76.7}
]},"mark":{"type":"line","color":"#000000","strokeWidth":1},"encoding":{"detail":{"field":"g"},"order":{"field":"o","type":"quantitative"}}},
{"data":{"values":[{"p":195925,"v":51.7,"v2":72.3},{"p":195984,"v":62,"v2":62}]},"mark":{"type":"area","color":"#000000"},"encoding":{"y2":{"field":"v2"}}},
{"data":{"values":[
{"p":195560,"v":85,"t":"SAOUHSC_00178"},{"p":196584,"v":97.3,"t":"SAOUHSC_00179"},
{"p":197670,"v":76,"t":"SAOUHSC_00180"},{"p":198727,"v":85,"t":"SAOUHSC_00181"},{"p":199782,"v":117.7,"t":"SAOUHSC_00182"},
{"p":196015,"v":223.3,"t":"S56"},{"p":199307,"v":223.3,"t":"S57"}
]},"mark":{"type":"text","align":"center","baseline":"middle","font":"DejaVu Sans Mono","fontSize":10},"encoding":{"text":{"field":"t"}}},
{"data":{"values":[{"p":194898,"v":76,"t":"SAOUHSC_00177"}]},"mark":{"type":"text","align":"left","baseline":"middle","font":"DejaVu Sans Mono","fontSize":9.5},"encoding":{"text":{"field":"t"}}},
{"data":{"values":[
{"p":197484,"v":841,"t":"-"},{"p":196442,"v":1098,"t":"-"},{"p":196973,"v":1356,"t":"-"},
{"p":195369,"v":1538,"t":"+"},{"p":195501,"v":1614,"t":"-"},{"p":197169,"v":1614,"t":"-"}
]},"mark":{"type":"text","align":"center","baseline":"middle","font":"DejaVu Sans Mono","fontSize":11,"fontWeight":"bold"},"encoding":{"text":{"field":"t"}}},
{"data":{"values":[{"p":195001,"v":20,"t":"195 001"},{"p":199712,"v":376,"t":"D64"}]},"mark":{"type":"text","align":"left","baseline":"middle","font":"DejaVu Sans Mono","fontSize":10},"encoding":{"text":{"field":"t"}}},
{"data":{"values":[{"p":199990,"v":20,"t":"200 000"},{"p":199270,"v":357.7,"t":"D63"}]},"mark":{"type":"text","align":"right","baseline":"middle","font":"DejaVu Sans Mono","fontSize":10},"encoding":{"text":{"field":"t"}}},
{"data":{"name":"mc"},"transform":[{"fold":["T1","T2","T3","T4","T5","T6","T7","T8","T9","T10","T11","T12","B1","B2","B3","B4","B5","B6","B7","B8","B9","B10","B11","B12"],"as":["s","v"]}],
"mark":{"type":"line","strokeWidth":1},
"encoding":{"color":{"field":"s","type":"nominal","legend":null,"scale":{"domain":["T1","T2","T3","T4","T5","T6","T7","T8","T9","T10","T11","T12","B1","B2","B3","B4","B5","B6","B7","B8","B9","B10","B11","B12"],
"range":["#5AAAF0","#C39BD3","#C0187A","#66E000","#9C8C00","#E8782A","#E0301E","#1A1A5E","#8B4513","#F0704A","#A0605A","#C8A040","#9C8C00","#E8782A","#66E000","#C0187A","#E0301E","#5AAAF0","#C39BD3","#8B4513","#F0704A","#1A1A5E","#C8A040","#A0605A"]}}}},
{"data":{"name":"mc"},"transform":[{"fold":["K3","K6"],"as":["s","v"]}],"mark":{"type":"line","color":"#000000","strokeWidth":1},"encoding":{"detail":{"field":"s"}}},
{"data":{"name":"g"},"transform":[{"fold":["c1","c2","C1","C2"],"as":["s","v"]}],"mark":{"type":"line","color":"#008A00","strokeWidth":1},"encoding":{"detail":{"field":"s"}}},
{"data":{"name":"g"},"transform":[{"fold":["k1","k2","K1","K2"],"as":["s","v"]}],"mark":{"type":"line","color":"#000000","strokeWidth":1},"encoding":{"detail":{"field":"s"}}},
{"data":{"name":"b"},"transform":[{"fold":["c1","c2","C1","C2"],"as":["s","v"]}],"mark":{"type":"line","color":"#1038D0","strokeWidth":1},"encoding":{"detail":{"field":"s"}}},
{"data":{"name":"b"},"transform":[{"fold":["k1","k2","K1","K2"],"as":["s","v"]}],"mark":{"type":"line","color":"#000000","strokeWidth":1},"encoding":{"detail":{"field":"s"}}},
{"data":{"name":"r"},"transform":[{"fold":["c1","c2","C1","C2"],"as":["s","v"]}],"mark":{"type":"line","color":"#E00000","strokeWidth":1},"encoding":{"detail":{"field":"s"}}},
{"data":{"name":"r"},"transform":[{"fold":["k1","k2","K1","K2"],"as":["s","v"]}],"mark":{"type":"line","color":"#000000","strokeWidth":1},"encoding":{"detail":{"field":"s"}}},
{"data":{"name":"y"},"transform":[{"fold":["c1","c2"],"as":["s","v"]}],"mark":{"type":"line","color":"#E8E800","strokeWidth":1},"encoding":{"detail":{"field":"s"}}},
{"data":{"name":"y"},"transform":[{"fold":["C1","C2"],"as":["s","v"]}],"mark":{"type":"line","color":"#C8C800","strokeWidth":1},"encoding":{"detail":{"field":"s"}}},
{"data":{"name":"y"},"transform":[{"fold":["k1","k2","K1","K2"],"as":["s","v"]}],"mark":{"type":"line","color":"#000000","strokeWidth":1},"encoding":{"detail":{"field":"s"}}}
]
}
